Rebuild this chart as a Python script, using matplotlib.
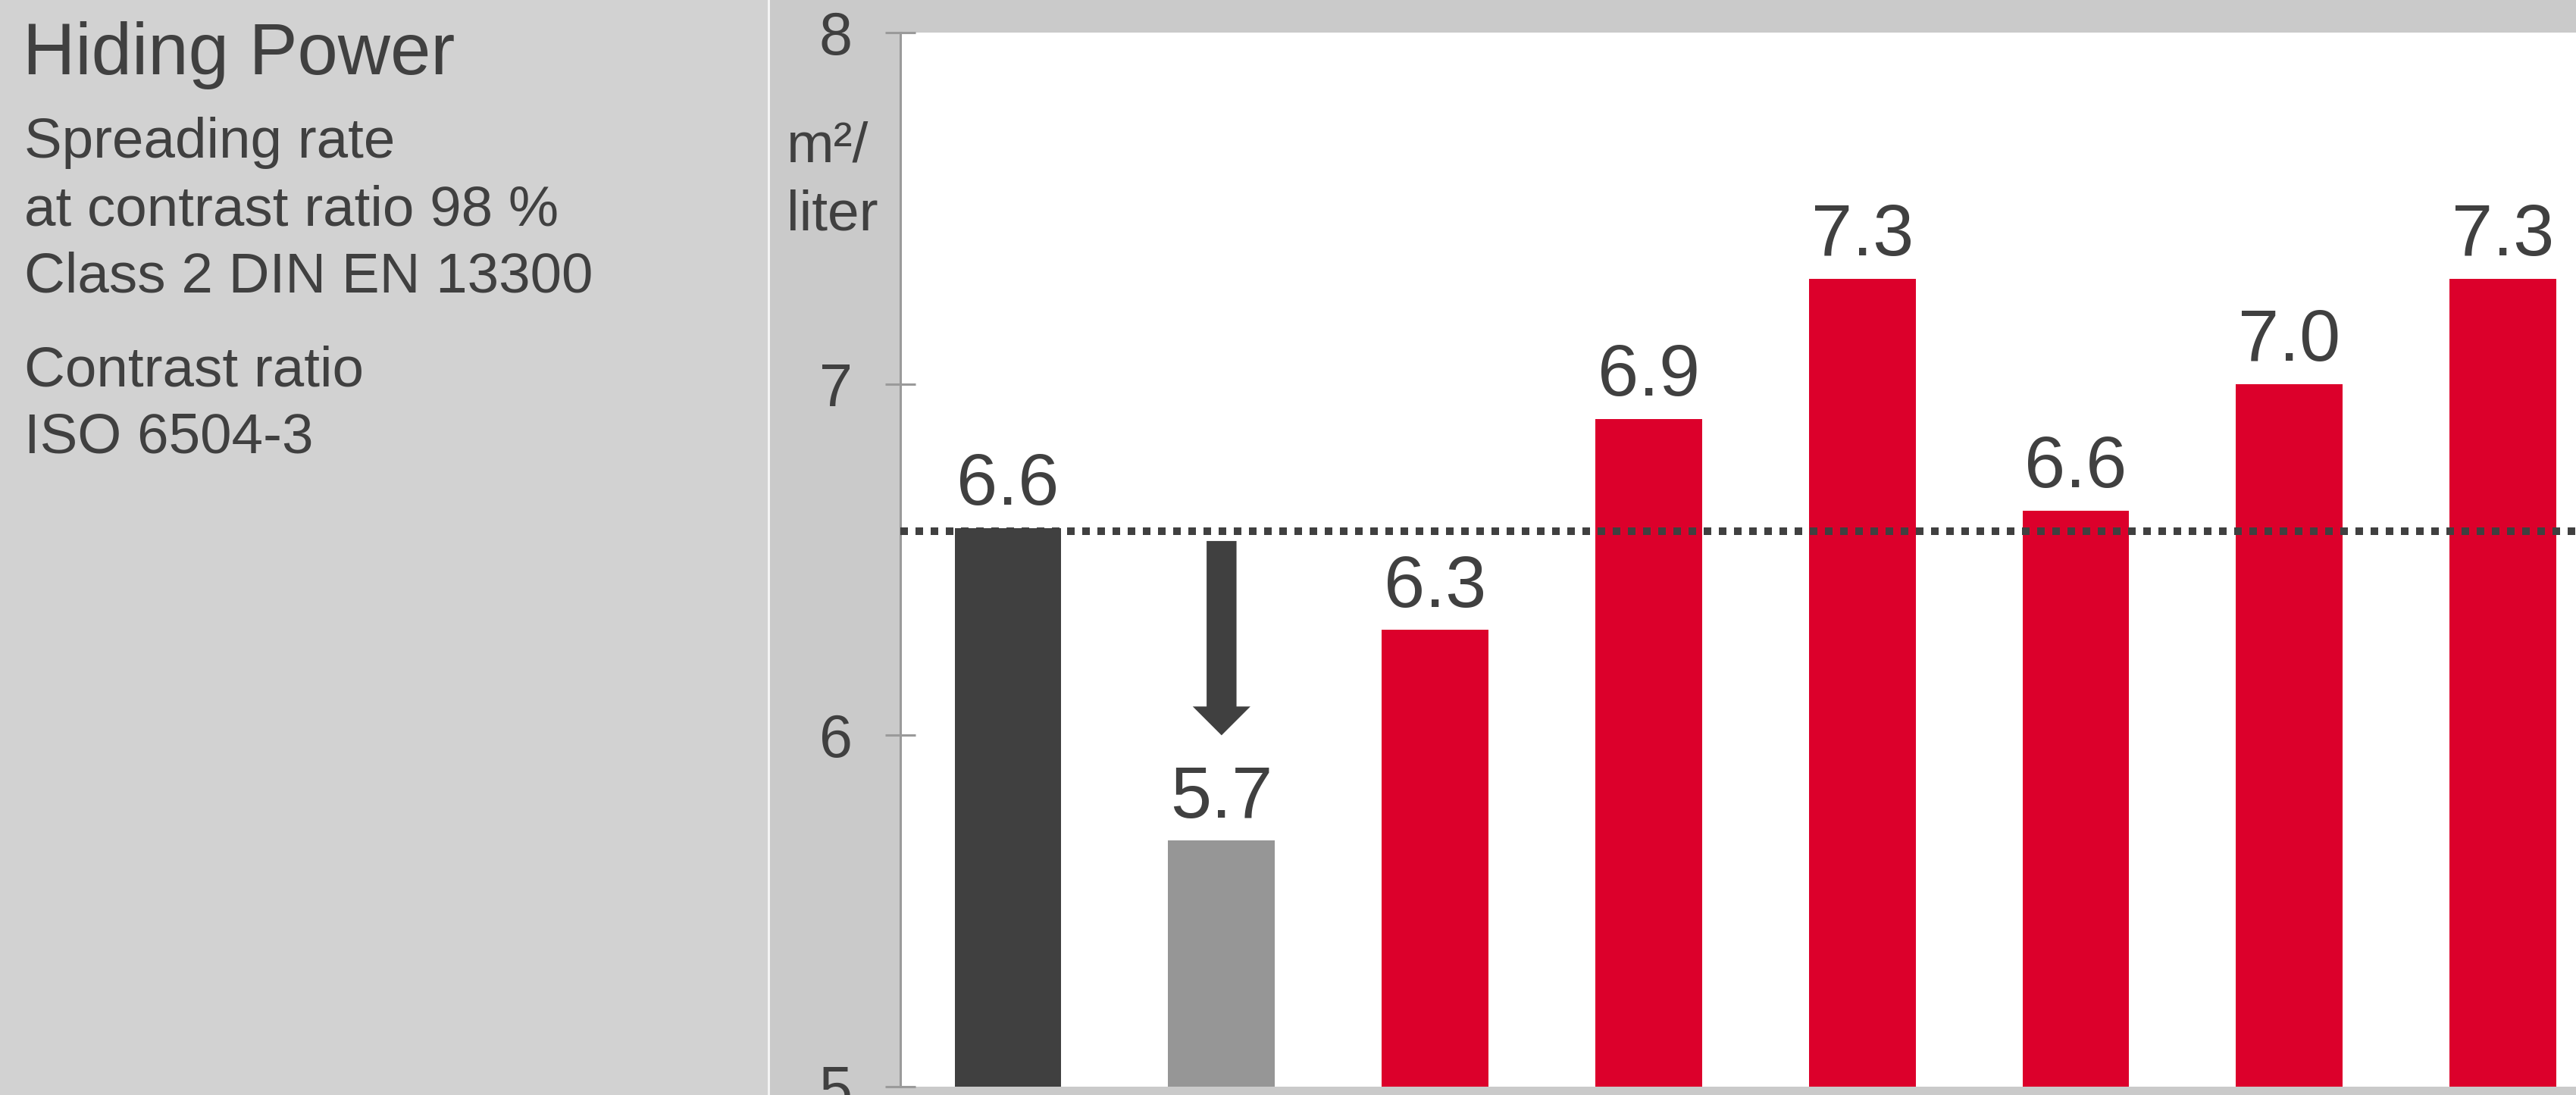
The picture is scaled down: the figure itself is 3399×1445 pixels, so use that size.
import matplotlib
matplotlib.use("Agg")
import matplotlib.pyplot as plt
import matplotlib.patches as patches

plt.rcParams['font.family'] = ['Liberation Sans', 'DejaVu Sans']

# data
valores = [6.59, 5.7, 6.3, 6.9, 7.3, 6.64, 7.0, 7.3]
colores = ['#404040', '#969696', '#dc002b', '#dc002b', '#dc002b', '#dc002b', '#dc002b', '#dc002b']
referencia = 6.58
flecha_desde = 6.553
flecha_hasta = 6.0
y_ticks = [5, 6, 7, 8]

titulo = 'Hiding Power'
lineas_texto = ['Spreading rate', 'at contrast ratio 98 %', 'Class 2 DIN EN 13300',
                'Contrast ratio', 'ISO 6504-3']
unidad = ['m²/', 'liter']

TXT = '#404040'
GRIS_EJE = '#9a9a9a'
W, H = 3399, 1445

fig = plt.figure(figsize=(W / 100, H / 100), dpi=100, facecolor='#cacaca')

# left text panel + white divider
fig.patches.append(patches.Rectangle((0, 0), 1013 / W, 1, transform=fig.transFigure,
                                     facecolor='#d2d2d2', edgecolor='none', zorder=0))
fig.patches.append(patches.Rectangle((1013 / W, 0), 3 / W, 1, transform=fig.transFigure,
                                     facecolor='#f4f4f4', edgecolor='none', zorder=0))

ax = fig.add_axes([1188 / W, 1 - 1434 / H, 1 - 1188 / W, (1434 - 43) / H])
ax.set_facecolor('white')

x = list(range(len(valores)))
ax.bar(x, valores, width=0.5, color=colores, bottom=0, zorder=2)

for xi, v in zip(x, valores):
    ax.annotate(f'{v:.1f}', (xi, v), xytext=(0, 22), textcoords='offset points',
                ha='center', va='baseline', fontsize=70, color=TXT, zorder=4)

ax.axhline(referencia, color='#404040', linewidth=7.2, linestyle=(0, (1, 1)),
           dash_capstyle='butt', zorder=3)

ax.arrow(1, flecha_desde, 0, flecha_hasta - flecha_desde, width=0.14, head_width=0.27,
         head_length=0.082, length_includes_head=True, color='#404040',
         linewidth=0, zorder=3)

ax.set_xlim(-0.504, 7.342)
ax.set_ylim(5, 8)
ax.set_yticks(y_ticks)
ax.set_yticklabels([str(t) for t in y_ticks])
ax.set_xticks([])

for lado in ['top', 'right', 'bottom']:
    ax.spines[lado].set_visible(False)
ax.spines['left'].set_color(GRIS_EJE)
ax.spines['left'].set_linewidth(2.2)
ax.tick_params(axis='y', direction='inout', length=28.8, width=2.2, color=GRIS_EJE,
               labelsize=57, labelcolor=TXT, pad=47)
for lbl in ax.get_yticklabels():
    lbl.set_horizontalalignment('center')

# left texts
fig.text(30 / W, 1 - 98 / H, titulo, fontsize=69, color=TXT, va='baseline', ha='left')
bases = [208, 297, 386, 509, 598]
for t, b in zip(lineas_texto, bases):
    fig.text(32 / W, 1 - b / H, t, fontsize=53.7, color=TXT, va='baseline', ha='left')

# unit label
for t, b in zip(unidad, [214, 303]):
    fig.text(1038 / W, 1 - b / H, t, fontsize=54, color=TXT, va='baseline', ha='left')

fig.savefig('out.png', dpi=100, facecolor=fig.get_facecolor())
